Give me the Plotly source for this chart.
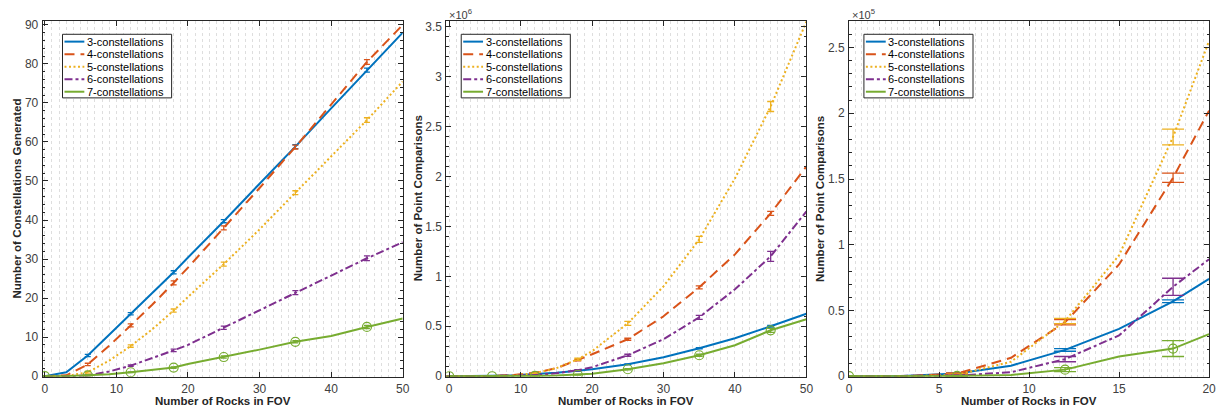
import plotly.graph_objects as go

# ---------------- data ----------------
series_names = ["3-constellations", "4-constellations", "5-constellations",
                "6-constellations", "7-constellations"]

# Panel 1: constellations generated
x_rocks_50 = [0, 3, 6, 9, 12, 15, 18, 20, 25, 30, 35, 40, 45, 50]
x_err_50 = [0, 6, 12, 18, 25, 35, 45]
gen_c3 = [0, 1.0, 5.3, 10.6, 16.0, 21.3, 26.6, 30.4, 39.7, 49.3, 58.8, 68.6, 78.4, 88.0]
gen_c4 = [0, 0.2, 3.0, 7.8, 13.0, 18.3, 23.9, 27.8, 38.0, 48.2, 58.7, 69.5, 80.5, 90.0]
gen_c5 = [0, 0, 1.0, 4.0, 7.7, 12.0, 16.8, 20.3, 28.7, 37.6, 47.0, 56.3, 65.6, 75.5]
gen_c6 = [0, 0, 0.2, 1.2, 2.7, 4.6, 6.6, 8.0, 12.4, 16.8, 21.4, 25.7, 30.2, 34.3]
gen_c7 = [0, 0, 0.2, 0.5, 1.0, 1.6, 2.2, 3.1, 4.9, 6.8, 8.8, 10.3, 12.6, 14.75]
gen_c3_at_err = [0, 5.3, 16.0, 26.6, 39.7, 58.8, 78.4]
gen_c4_at_err = [0, 3.0, 13.0, 23.9, 38.0, 58.7, 80.5]
gen_c5_at_err = [0, 1.0, 7.7, 16.8, 28.7, 47.0, 65.6]
gen_c6_at_err = [0, 0.2, 2.7, 6.6, 12.4, 21.4, 30.2]
gen_c7_at_err = [0, 0.2, 1.0, 2.2, 4.9, 8.8, 12.6]
gen_c3_err = [0.1, 0.3, 0.3, 0.4, 0.4, 0.5, 0.5]
gen_c4_err = [0.1, 0.3, 0.4, 0.5, 0.5, 0.5, 0.6]
gen_c5_err = [0.1, 0.2, 0.3, 0.4, 0.5, 0.5, 0.6]
gen_c6_err = [0.1, 0.1, 0.2, 0.3, 0.4, 0.5, 0.6]
gen_c7_err = [0.1, 0.1, 0.1, 0.2, 0.3, 0.3, 0.4]

# Panel 2: point comparisons (x 10^6)
cmp_c3 = [0, 0, 0.004, 0.01, 0.02, 0.035, 0.055, 0.07, 0.12, 0.19, 0.28, 0.38, 0.50, 0.625]
cmp_c4 = [0, 0, 0.002, 0.012, 0.035, 0.08, 0.16, 0.22, 0.37, 0.60, 0.89, 1.22, 1.63, 2.10]
cmp_c5 = [0, 0, 0.001, 0.01, 0.03, 0.08, 0.17, 0.25, 0.53, 0.90, 1.37, 1.98, 2.70, 3.55]
cmp_c6 = [0, 0, 0, 0.005, 0.012, 0.03, 0.06, 0.09, 0.21, 0.37, 0.59, 0.87, 1.20, 1.65]
cmp_c7 = [0, 0, 0, 0.001, 0.003, 0.008, 0.015, 0.025, 0.07, 0.13, 0.21, 0.31, 0.46, 0.57]
cmp_c3_at_err = [0, 0.004, 0.02, 0.055, 0.12, 0.28, 0.50]
cmp_c4_at_err = [0, 0.002, 0.035, 0.16, 0.37, 0.89, 1.63]
cmp_c5_at_err = [0, 0.001, 0.03, 0.17, 0.53, 1.37, 2.70]
cmp_c6_at_err = [0, 0, 0.012, 0.06, 0.21, 0.59, 1.20]
cmp_c7_at_err = [0, 0, 0.003, 0.015, 0.07, 0.21, 0.46]
cmp_c3_err = [0, 0.001, 0.002, 0.003, 0.004, 0.006, 0.008]
cmp_c4_err = [0, 0.001, 0.003, 0.006, 0.01, 0.015, 0.02]
cmp_c5_err = [0, 0.001, 0.003, 0.01, 0.02, 0.03, 0.05]
cmp_c6_err = [0, 0.001, 0.002, 0.005, 0.01, 0.02, 0.05]
cmp_c7_err = [0, 0.001, 0.001, 0.003, 0.006, 0.01, 0.02]

# Panel 3: point comparisons, up to 20 rocks (x 10^5)
x_rocks_20 = [0, 3, 6, 9, 12, 15, 18, 20]
x_err_20 = [0, 6, 12, 18]
sm_c3 = [0, 0.002, 0.02, 0.08, 0.20, 0.36, 0.57, 0.74]
sm_c4 = [0, 0, 0.02, 0.14, 0.41, 0.85, 1.51, 2.02]
sm_c5 = [0, 0, 0.01, 0.11, 0.42, 0.92, 1.82, 2.55]
sm_c6 = [0, 0, 0.005, 0.03, 0.13, 0.31, 0.68, 0.89]
sm_c7 = [0, 0, 0.002, 0.01, 0.05, 0.15, 0.21, 0.32]
sm_c3_at_err = [0, 0.02, 0.20, 0.57]
sm_c4_at_err = [0, 0.02, 0.41, 1.51]
sm_c5_at_err = [0, 0.01, 0.42, 1.82]
sm_c6_at_err = [0, 0.005, 0.13, 0.68]
sm_c7_at_err = [0, 0.002, 0.05, 0.21]
sm_c3_err = [0, 0.003, 0.01, 0.01]
sm_c4_err = [0, 0.005, 0.02, 0.035]
sm_c5_err = [0, 0.005, 0.02, 0.06]
sm_c6_err = [0, 0.003, 0.02, 0.065]
sm_c7_err = [0, 0.002, 0.015, 0.06]

# ---------------- styles ----------------
colors = ["#0072BD", "#D95319", "#EDB120", "#7E2F8E", "#77AC30"]
dashes = ["solid", "10px,6px", "2px,2.5px", "8px,3px,3px,3px", "solid"]
AX = "#262626"
TICK = "#404040"
GRID = "#dedede"
FONT = "Liberation Sans, Arial, Helvetica, sans-serif"
W, H = 1224, 417

def px_x(p):
    return p / W

def px_y(p):
    return 1 - p / H

panels = [
    dict(x=x_rocks_50, xe=x_err_50,
         ys=[gen_c3, gen_c4, gen_c5, gen_c6, gen_c7],
         ye=[gen_c3_at_err, gen_c4_at_err, gen_c5_at_err, gen_c6_at_err, gen_c7_at_err],
         er=[gen_c3_err, gen_c4_err, gen_c5_err, gen_c6_err, gen_c7_err],
         left=40, right=403, xr=[-0.3, 50], yr=[-0.15, 91.1], xd=10, xmin=1, yd=10, ymin=2,
         capw=3, ytitle="Number of Constellations Generated", ytx=14, exp=None),
    dict(x=x_rocks_50, xe=x_err_50,
         ys=[cmp_c3, cmp_c4, cmp_c5, cmp_c6, cmp_c7],
         ye=[cmp_c3_at_err, cmp_c4_at_err, cmp_c5_at_err, cmp_c6_at_err, cmp_c7_at_err],
         er=[cmp_c3_err, cmp_c4_err, cmp_c5_err, cmp_c6_err, cmp_c7_err],
         left=447, right=810, xr=[-0.4, 50], yr=[-0.005, 3.56], xd=10, xmin=1, yd=0.5, ymin=0.1,
         capw=3.5, ytitle="Number of Point Comparisons", ytx=418, exp="6"),
    dict(x=x_rocks_20, xe=x_err_20,
         ys=[sm_c3, sm_c4, sm_c5, sm_c6, sm_c7],
         ye=[sm_c3_at_err, sm_c4_at_err, sm_c5_at_err, sm_c6_at_err, sm_c7_at_err],
         er=[sm_c3_err, sm_c4_err, sm_c5_err, sm_c6_err, sm_c7_err],
         left=853, right=1216, xr=[0, 20], yr=[-0.004, 2.705], xd=5, xmin=1 / 3, yd=0.5, ymin=0.1,
         capw=11, ytitle="Number of Point Comparisons", ytx=823, exp="5"),
]

TOP, BOTTOM = 19, 383

fig = go.Figure()
shapes = []
annotations = []

for i, p in enumerate(panels):
    n = i + 1
    xa = "x" if n == 1 else f"x{n}"
    ya = "y" if n == 1 else f"y{n}"
    for k in range(5):
        fig.add_trace(go.Scatter(
            x=p["x"], y=p["ys"][k], mode="lines", xaxis=xa, yaxis=ya,
            line=dict(color=colors[k], width=2, dash=dashes[k]),
            showlegend=False, hoverinfo="skip"))
        if k == 4:
            mk = dict(symbol="circle-open", size=9, color=colors[k], line=dict(width=1.2, color=colors[k]))
        else:
            mk = dict(size=1, color="rgba(0,0,0,0)")
        fig.add_trace(go.Scatter(
            x=p["xe"], y=p["ye"][k], mode="markers", xaxis=xa, yaxis=ya, marker=mk,
            error_y=dict(type="data", array=p["er"][k], color=colors[k],
                         thickness=1.3, width=p["capw"]),
            showlegend=False, hoverinfo="skip"))

    dom_x = [px_x(p["left"]), px_x(p["right"])]
    dom_y = [px_y(BOTTOM), px_y(TOP)]
    xkey = "xaxis" if n == 1 else f"xaxis{n}"
    ykey = "yaxis" if n == 1 else f"yaxis{n}"
    fig.update_layout(**{
        xkey: dict(domain=dom_x, range=p["xr"], anchor=ya, dtick=p["xd"], tick0=0,
                   ticks="inside", ticklen=5, tickcolor=AX, showline=True, linecolor=AX,
                   linewidth=1, mirror="ticks", zeroline=False, ticklabelstandoff=1,
                   showgrid=True, gridcolor=GRID, griddash="dot", gridwidth=1,
                   minor=dict(dtick=p["xmin"], tick0=0, showgrid=True, gridcolor=GRID,
                              griddash="dot", gridwidth=1),
                   tickfont=dict(family=FONT, size=12, color=TICK)),
        ykey: dict(domain=dom_y, range=p["yr"], anchor=xa, dtick=p["yd"], tick0=0,
                   ticks="inside", ticklen=5, tickcolor=AX, showline=True, linecolor=AX,
                   linewidth=1, mirror="ticks", zeroline=False, showgrid=False,
                   ticklabelstandoff=1,
                   minor=dict(dtick=p["ymin"], tick0=0, ticks="inside", ticklen=2.5,
                              tickcolor=AX, showgrid=False),
                   tickfont=dict(family=FONT, size=12, color=TICK)),
    })

    # axis titles
    annotations.append(dict(text="<b>Number of Rocks in FOV</b>", xref="paper", yref="paper",
                            x=px_x((p["left"] + p["right"]) / 2), y=px_y(407.5),
                            xanchor="center", yanchor="middle", showarrow=False,
                            font=dict(family=FONT, size=11.5, color=AX)))
    annotations.append(dict(text=f"<b>{p['ytitle']}</b>", xref="paper", yref="paper",
                            x=px_x(p["ytx"]), y=px_y((TOP + BOTTOM) / 2), textangle=-90,
                            xanchor="center", yanchor="middle", showarrow=False,
                            font=dict(family=FONT, size=11.5, color=AX)))
    if p["exp"]:
        annotations.append(dict(text=f"\u00d710<sup>{p['exp']}</sup>", xref="paper", yref="paper",
                                x=px_x(p["left"] + 1), y=px_y(12), xanchor="left",
                                yanchor="middle", showarrow=False,
                                font=dict(family=FONT, size=11, color=TICK)))

    # legend box
    lx0 = p["left"] + 20 if n == 1 else p["left"] + 15
    ly0 = 33
    shapes.append(dict(type="rect", xref="paper", yref="paper",
                       x0=px_x(lx0), x1=px_x(lx0 + 110), y0=px_y(ly0), y1=px_y(ly0 + 65),
                       line=dict(color=AX, width=1), fillcolor="white", layer="above"))
    for k in range(5):
        yc = ly0 + 7.5 + 12.8 * k
        shapes.append(dict(type="line", xref="paper", yref="paper",
                           x0=px_x(lx0 + 2), x1=px_x(lx0 + 22), y0=px_y(yc), y1=px_y(yc),
                           line=dict(color=colors[k], width=2, dash=dashes[k]), layer="above"))
        annotations.append(dict(text=series_names[k], xref="paper", yref="paper",
                                x=px_x(lx0 + 22.5), y=px_y(yc), xanchor="left", yanchor="middle",
                                showarrow=False,
                                font=dict(family=FONT, size=11, color="#000000")))

fig.update_layout(width=W, height=H, margin=dict(l=0, r=0, t=0, b=0),
                  paper_bgcolor="white", plot_bgcolor="white",
                  shapes=shapes, annotations=annotations, showlegend=False)

fig.write_html("out.html")
